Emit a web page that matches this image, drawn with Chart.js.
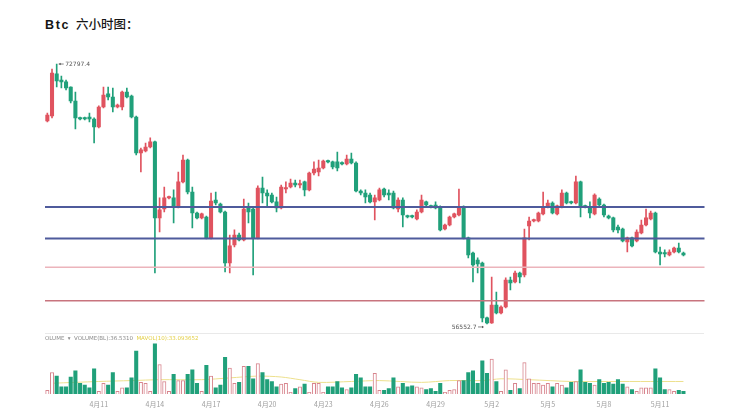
<!DOCTYPE html>
<html><head><meta charset="utf-8">
<script src="https://cdn.jsdelivr.net/npm/chart.js@4/dist/chart.umd.min.js"></script>
<style>
html,body{margin:0;padding:0;background:#fff;width:750px;height:420px;overflow:hidden;}
#title{position:absolute;left:45px;top:14px;font-size:12.5px;color:#151515;white-space:nowrap;}
#title b{font-family:"Liberation Sans",Arial,sans-serif;font-weight:bold;letter-spacing:1.6px;margin-right:6px;}
#title span{font-family:"Noto Sans CJK SC";font-weight:500;}
#main{position:absolute;left:0;top:0;}
#vol{position:absolute;left:0;top:335px;}
#sep{position:absolute;left:45px;top:333px;width:659px;height:1px;background:#e9e9e9;}
#vleg{position:absolute;left:45px;top:335px;font-size:5.5px;color:#8a8a8a;font-family:"DejaVu Sans";white-space:nowrap;}
#vleg .y{color:#e3cf45;}
</style></head>
<body>
<div id="title"><b>Btc</b><span>六小时图：</span></div>
<canvas id="main" width="750" height="335"></canvas>
<div id="sep"></div>
<canvas id="vol" width="750" height="85"></canvas>
<div id="vleg">OLUME &nbsp;▾&nbsp; VOLUME(BL):36.5310 &nbsp;<span class="y">MAVOL(10):33.093652</span></div>
<script>
// ---- data ----
const startUTC = Date.UTC(2024, 3, 8, 6); // first 6h candle
const padSlots = 4;
const tickLabels = ['4月11','4月14','4月17','4月20','4月23','4月26','4月29','5月2','5月5','5月8','5月11'];

const opens = [69240,69550,72180,71800,71680,71360,70490,69430,69430,69490,
69360,68860,70110,70930,70740,70110,70110,71050,70800,69490,
67240,67360,67610,67930,63180,63740,64430,64430,63860,65430,
66800,64800,63490,63180,63240,61930,64300,64050,63550,60360,
61490,62110,61800,63800,63740,61930,65050,64740,64610,64180,
63800,64990,65110,65360,65240,65430,64930,65990,66050,66300,
66740,66680,66680,66610,66550,66860,66610,64860,64740,64610,
64180,64300,64990,64740,64740,63740,64300,63300,63300,63110,
63550,64180,63930,63990,63860,62490,62740,63240,63360,63860,
61930,60990,60550,60360,56930,56610,57740,57240,57610,59300,
59180,59740,59610,62680,62990,62990,63430,63860,64110,63430,
63860,64740,64180,64110,65430,63930,63860,63430,64360,63990,
63300,63180,62610,62490,61680,61930,61740,62240,62740,63110,
63490,61050,60990,60860,61050,61300,60990];
const highs = [69740,72490,72797.4,72050,71800,71380,71050,69490,69490,69740,
69430,70180,71360,71360,71300,70300,71110,71300,70860,69550,
67550,67860,68180,67990,64430,65110,64550,64930,66050,67110,
66860,65110,63550,63490,63300,64740,64800,64110,63610,62110,
62430,62240,64360,64110,63860,65180,65740,64930,64740,64490,
65240,65430,65610,65550,65550,65480,66050,66680,66800,66800,
66800,66740,67300,66680,67110,67240,66680,64930,64930,64740,
64610,65050,65050,64930,64860,64430,64430,63360,63360,63680,
64610,64240,63990,64180,63930,62800,63300,63490,64990,63930,
61990,61050,60680,60420,56990,59490,58550,57680,59430,59490,
59860,59800,62490,63240,63110,63550,64800,64300,64180,63990,
64930,64800,64240,65800,65490,63990,64180,64680,64430,64050,
63360,63240,62740,62550,61990,61990,62430,63050,63740,63610,
63550,61360,61180,61180,61360,61610,61050];
const lows = [69180,69430,71360,71300,71180,70360,68740,69300,69300,69180,
67860,68800,70050,70550,69800,70050,69930,70680,69430,67110,
66050,67300,67550,59740,62300,63550,64360,62860,63800,65360,
64680,62550,63110,63110,61860,61860,63990,63490,59800,59740,
61360,61740,61740,62860,59610,61860,64110,63860,64110,63550,
63740,64740,65050,65110,65050,64550,64860,65860,65800,66240,
66610,66240,66110,66490,66490,66550,64800,64610,64110,64110,
63050,64240,64490,64300,63740,63550,62610,63180,63180,63050,
63490,63930,63800,63740,62360,62430,62680,63180,63300,61860,
60680,59180,59740,56680,56552.7,56580,57180,57180,57550,58680,
59110,59110,59490,61800,62930,62930,63360,63800,63430,63360,
63800,64050,64050,64050,63240,63800,63180,63360,63860,63240,
63110,62300,62240,61680,61050,61360,61680,62180,62680,63050,
60990,60240,60740,60800,60990,60990,60800];
const closes = [69610,72240,71740,71680,71300,70490,69430,69360,69360,69360,
68860,70110,70860,70740,70110,70240,71050,70740,69490,67240,
67430,67610,67930,63180,63680,64430,64490,63860,65430,66800,
64800,63490,63180,63430,61930,64240,64110,63550,60360,61430,
62110,61800,63740,63550,61930,65050,64740,64550,64180,63800,
65110,65050,65360,65240,65300,64930,65990,66240,66300,66740,
66680,66360,66300,66550,66860,66610,64860,64740,64490,64180,
64430,64930,64610,64610,63800,64300,63360,63240,63240,63550,
64300,63990,63860,63800,62430,62740,63240,63430,63860,61930,
60860,60240,60300,56930,56610,57740,57240,57610,59300,59110,
59740,59490,61930,62990,63050,63490,63860,64110,63490,63930,
64740,64110,64110,65430,63930,63860,63490,64610,63990,63360,
63180,62430,62430,61740,61930,61430,62300,62740,63180,63490,
61050,60930,60930,61050,61300,61050,60860];
const volumes = [4,24,20,8,8,19,26,12,10,7,
28,3,12,10,24,3,7,7,18,48,
13,12,3,56,33,14,3,22,15,15,
22,27,12,3,32,20,7,10,41,29,
12,13,31,31,17,34,24,16,14,8,
11,12,2,6,8,11,2,12,12,2,
8,8,14,7,5,7,22,18,8,8,
23,4,4,6,18,8,12,8,9,8,
7,5,6,3,12,2,4,5,15,15,
24,26,12,37,23,39,14,3,27,4,
12,6,35,17,12,12,10,12,8,12,
10,7,13,14,27,13,12,10,16,12,
13,11,16,11,8,5,3,7,7,7,
28,18,5,5,3,4,3];
const maIdx = [1,11,18,24,33,39,45,50,54,58,65,71,80,86,93,97,103,112,120,129,136];
const maVal = [12,14,15,16,16,18,20,19,16,13,14,15,13,15,15,17,16,14,14,14,14];
const levels = [63860, 61900, 60100, 58000];

// ---- styles ----
const UP = '#e0535f', DOWN = '#20a07a';
const levelColors = ['#4f5b9c','#4f5b9c','#ecb4bb','#c8747e'];
const levelWidths = [2, 2, 1.5, 1.5];

const times = [];
for (let i = 0; i < opens.length + padSlots; i++) {
  const d = new Date(startUTC + i * 6 * 3600e3);
  times.push(`${d.getUTCMonth()+1}月${d.getUTCDate()} ${String(d.getUTCHours()).padStart(2,'0')}:00`);
}
const isUp = opens.map((o, i) => closes[i] >= o);
const candleColor = isUp.map(u => u ? UP : DOWN);

const pad = {left: 45, right: 45.5};

const overlay = {
  id: 'overlay',
  afterDatasetsDraw(chart) {
    const {ctx, chartArea: a, scales: {x, y}} = chart;
    ctx.save();
    levels.forEach((lv, i) => {
      const py = y.getPixelForValue(lv);
      ctx.strokeStyle = levelColors[i];
      ctx.lineWidth = levelWidths[i];
      ctx.beginPath(); ctx.moveTo(a.left, py); ctx.lineTo(a.right, py); ctx.stroke();
    });
    let hi = 0, lo = 0;
    highs.forEach((h, i) => { if (h > highs[hi]) hi = i; });
    lows.forEach((l, i) => { if (l < lows[lo]) lo = i; });
    ctx.font = '6px "DejaVu Sans"';
    ctx.fillStyle = '#555'; ctx.strokeStyle = '#666'; ctx.lineWidth = 0.8;
    ctx.textBaseline = 'middle';
    // high
    let hx = x.getPixelForValue(hi), hy = y.getPixelForValue(highs[hi]);
    ctx.beginPath(); ctx.moveTo(hx + 2, hy); ctx.lineTo(hx + 7, hy); ctx.stroke();
    ctx.beginPath(); ctx.moveTo(hx + 2, hy); ctx.lineTo(hx + 4, hy - 1.3); ctx.lineTo(hx + 4, hy + 1.3); ctx.closePath(); ctx.fill();
    ctx.textAlign = 'left';
    ctx.fillText(highs[hi].toFixed(1), hx + 8.5, hy + 0.5);
    // low
    let lx = x.getPixelForValue(lo), ly = y.getPixelForValue(lows[lo]) + 3;
    ctx.beginPath(); ctx.moveTo(lx - 9, ly); ctx.lineTo(lx - 4, ly); ctx.stroke();
    ctx.beginPath(); ctx.moveTo(lx - 3, ly); ctx.lineTo(lx - 5, ly - 1.3); ctx.lineTo(lx - 5, ly + 1.3); ctx.closePath(); ctx.fill();
    ctx.textAlign = 'right';
    ctx.fillText(lows[lo].toFixed(1), lx - 10.5, ly + 0.5);
    ctx.restore();
  }
};

new Chart(document.getElementById('main'), {
  type: 'bar',
  data: {
    labels: times,
    datasets: [
      {data: lows.map((l, i) => [l, highs[i]]), backgroundColor: candleColor, barThickness: 1, grouped: false, order: 2},
      {data: opens.map((o, i) => [o, closes[i]]), backgroundColor: candleColor, barThickness: 3.4, minBarLength: 1.4, grouped: false, order: 1}
    ]
  },
  options: {
    responsive: false, animation: false,
    layout: {padding: {left: pad.left, right: pad.right, top: 60, bottom: 3}},
    plugins: {legend: {display: false}, tooltip: {enabled: false}},
    scales: {
      x: {display: false, offset: true},
      y: {display: false, min: 56050, max: 73050}
    }
  },
  plugins: [overlay]
});

new Chart(document.getElementById('vol'), {
  type: 'bar',
  data: {
    labels: times,
    datasets: [
      {type: 'line', data: maIdx.map((idx, k) => ({x: times[idx], y: maVal[k]})), borderColor: '#ede08c', borderWidth: 1, pointRadius: 0, tension: 0.3, order: 3},
      {data: volumes, backgroundColor: isUp.map(u => u ? '#ffffff' : DOWN),
       borderColor: isUp.map(u => u ? '#d7848d' : DOWN), borderWidth: isUp.map(u => u ? 1 : 0),
       barThickness: 3.4, minBarLength: 1, order: 1}
    ]
  },
  options: {
    responsive: false, animation: false,
    layout: {padding: {left: pad.left, right: pad.right, top: 8, bottom: 5.6}},
    plugins: {legend: {display: false}, tooltip: {enabled: false}},
    scales: {
      x: {offset: true, grid: {display: false, drawTicks: false}, border: {display: false},
          ticks: {autoSkip: false, maxRotation: 0, padding: 6, color: '#a0a0a0',
                  font: {size: 7, family: '"Noto Sans CJK SC"'},
                  callback: function (v) {
                    const parts = times[v].split(' ');
                    return (parts[1] === '00:00' && tickLabels.includes(parts[0])) ? parts[0] : '';
                  }}},
      y: {display: false, min: 0, max: 57}
    }
  }
});
</script>
</body></html>
